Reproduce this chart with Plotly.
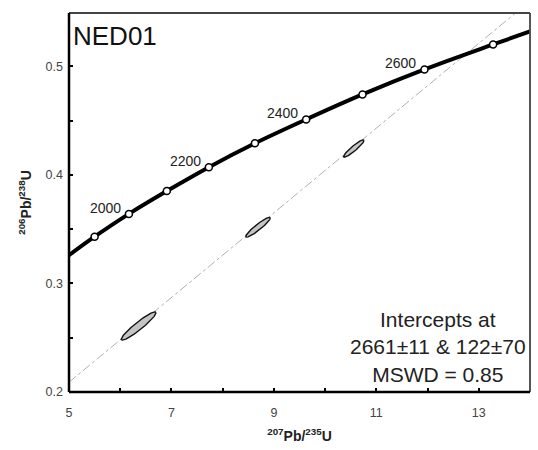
import numpy as np
import plotly.graph_objects as go

# Concordia reference ages (Ma) and their ratios
conc_age = [1900, 2000, 2100, 2200, 2300, 2400, 2500, 2600, 2700]
conc_x = [5.50, 6.17, 6.91, 7.73, 8.63, 9.63, 10.73, 11.94, 13.28]
conc_y = [0.343, 0.364, 0.385, 0.407, 0.429, 0.451, 0.474, 0.497, 0.520]
# where the curve meets the plot edges
edge_x = [5.0, 14.0]
edge_y = [0.326, 0.532]
label_ages = [2000, 2200, 2400, 2600]

# Discordia line end points
disc_x = [5.0, 14.0]
disc_y = [0.209, 0.560]

# Error ellipses: centre, half extent in x and y, correlation
ell_x = [6.36, 8.69, 10.56]
ell_y = [0.2608, 0.3517, 0.4242]
ell_sx = [0.34, 0.24, 0.20]
ell_sy = [0.0130, 0.0091, 0.0080]
ell_rho = [0.94, 0.93, 0.93]

x_ticks = [5, 6, 7, 8, 9, 10, 11, 12, 13]
x_ticktext = ["5", "", "7", "", "9", "", "11", "", "13"]
y_ticks = [0.2, 0.25, 0.3, 0.35, 0.4, 0.45, 0.5]
y_ticktext = ["0.2", "", "0.3", "", "0.4", "", "0.5"]

sample = "NED01"
result_lines = ["Intercepts at", "2661±11 & 122±70", "MSWD = 0.85"]

FONT = "Arial, Liberation Sans, sans-serif"

fig = go.Figure()

fig.add_trace(go.Scatter(
    x=disc_x, y=disc_y, mode="lines",
    line=dict(color="#b0b0b0", width=1, dash="dashdot"),
    hoverinfo="skip", showlegend=False))

t = np.linspace(0, 2 * np.pi, 121)
for cx, cy, sx, sy, r in zip(ell_x, ell_y, ell_sx, ell_sy, ell_rho):
    ex = cx + sx * np.cos(t)
    ey = cy + sy * (r * np.cos(t) + np.sqrt(1 - r * r) * np.sin(t))
    fig.add_trace(go.Scatter(
        x=ex, y=ey, mode="lines", fill="toself",
        fillcolor="#c4c4c4", line=dict(color="#111111", width=1.4),
        hoverinfo="skip", showlegend=False))

curve_x = [edge_x[0]] + conc_x + [edge_x[1]]
curve_y = [edge_y[0]] + conc_y + [edge_y[1]]
fig.add_trace(go.Scatter(
    x=curve_x, y=curve_y, mode="lines",
    line=dict(color="black", width=4, shape="spline"),
    hoverinfo="skip", showlegend=False))

fig.add_trace(go.Scatter(
    x=conc_x, y=conc_y, mode="markers",
    marker=dict(size=7, color="white", line=dict(color="black", width=1.5)),
    hoverinfo="skip", showlegend=False))

for age in label_ages:
    i = conc_age.index(age)
    fig.add_annotation(
        x=conc_x[i], y=conc_y[i], text=str(age), showarrow=False,
        xanchor="right", yanchor="middle", xshift=-6, yshift=6,
        font=dict(family=FONT, size=14, color="#222222"))

fig.add_annotation(
    xref="paper", yref="paper", x=0.005, y=0.985, text=sample,
    showarrow=False, xanchor="left", yanchor="top",
    font=dict(family=FONT, size=26, color="#111111"))

fig.add_annotation(
    xref="paper", yref="paper", x=0.80, y=0.118,
    text="<br>".join(result_lines), showarrow=False,
    xanchor="center", yanchor="middle", align="center",
    font=dict(family=FONT, size=21, color="#222222"))

# frame: thick left/bottom, thinner top/right
fig.add_shape(type="line", xref="paper", yref="paper", x0=0, x1=1, y0=1, y1=1,
              line=dict(color="#444444", width=1.8), layer="above")
fig.add_shape(type="line", xref="paper", yref="paper", x0=1, x1=1, y0=0, y1=1,
              line=dict(color="#444444", width=1.8), layer="above")
fig.add_shape(type="line", xref="paper", yref="paper", x0=0, x1=0, y0=0, y1=1,
              line=dict(color="black", width=2.5), layer="above")
fig.add_shape(type="line", xref="paper", yref="paper", x0=0, x1=1, y0=0, y1=0,
              line=dict(color="black", width=2.5), layer="above")

fig.update_xaxes(
    range=[5, 14], tickmode="array", tickvals=x_ticks, ticktext=x_ticktext,
    ticks="inside", ticklen=4, tickwidth=2, tickcolor="black",
    showline=False, showgrid=False, zeroline=False, automargin=False,
    ticklabelstandoff=11,
    tickfont=dict(family=FONT, size=12.5, color="#444444"),
    title=dict(text="<b><sup>207</sup>Pb/<sup>235</sup>U</b>", standoff=12,
               font=dict(family=FONT, size=14, color="#222222")))

fig.update_yaxes(
    range=[0.2, 0.549], tickmode="array", tickvals=y_ticks, ticktext=y_ticktext,
    ticks="inside", ticklen=4, tickwidth=2, tickcolor="black",
    showline=False, showgrid=False, zeroline=False, automargin=False,
    ticklabelstandoff=5,
    tickfont=dict(family=FONT, size=12.5, color="#444444"),
    title=dict(text="<b><sup>206</sup>Pb/<sup>238</sup>U</b>", standoff=10,
               font=dict(family=FONT, size=14, color="#222222")))

fig.update_layout(
    width=538, height=450,
    margin=dict(l=69, r=8, t=13, b=58),
    paper_bgcolor="white", plot_bgcolor="white",
    showlegend=False)

fig.write_html("out.html", config={"displayModeBar": False},
               post_script="document.body.style.margin='0px';document.body.style.padding='0px';")
